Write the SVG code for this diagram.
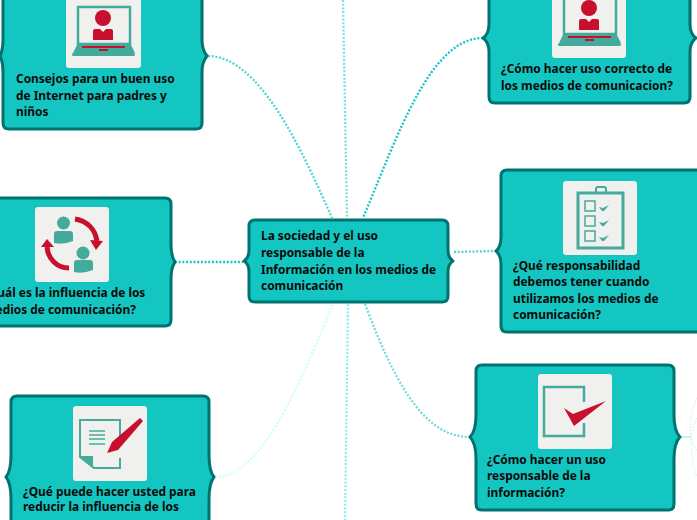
<svg xmlns="http://www.w3.org/2000/svg" width="697" height="520" viewBox="0 0 697 520">
<style>
.box{fill:#14c6c1;stroke:#007270;stroke-width:3;stroke-linejoin:round}
.tile{fill:#f0f0ee}
.t{font-family:"Noto Sans","Open Sans",sans-serif;font-weight:700;font-size:11.9px;fill:#0a0a0a}
.c{fill:none;stroke-width:2.300;stroke-dasharray:2 1.700}
.g{fill:#44ab9c}
.gs{fill:none;stroke:#44ab9c}
.r{fill:#c8102e}
.rs{fill:none;stroke:#c8102e}
</style>
<defs>
<g id="laptop">
<rect x="12" y="7" width="52" height="37" class="gs" stroke-width="2.500"/>
<circle cx="37" cy="18" r="8" class="r"/>
<path d="M27 40V31Q27 29 29 29H34L37 32L40 29H45Q47 29 47 31V40Z" class="r"/>
<path d="M11 45H65L69 53H7Z" class="g"/>
<rect x="16" y="46" width="43" height="2" class="r"/>
<rect x="33" y="49" width="9" height="2" class="r"/>
<rect x="6" y="53" width="63" height="3" rx="1.500" class="g"/>
</g>
</defs>
<g id="connectors">
<path class="c" stroke="#4fd6d2" d="M208 56C258 56 300 145 332 218"/>
<path class="c" stroke="#12c4c4" d="M483 38C430 38 398 135 363 218"/>
<path class="c" stroke="#7ce0de" d="M343 0L347 218"/>
<path class="c" stroke="#14c6c1" d="M175 262H243"/>
<path class="c" stroke="#4fd6d2" d="M454 252L495 251"/>
<path class="c" stroke="#ccfffb" d="M215 477C265 477 305 370 333 304"/>
<path class="c" stroke="#8ceeea" d="M348 304L345 520"/>
<path class="c" stroke="#6bdedb" d="M365 304C390 370 420 437 469 437"/>
<path fill="none" stroke="#8fe6e2" stroke-width="1" d="M680 437H691"/>
<path fill="none" stroke="#c4f2ef" stroke-width="1" stroke-dasharray="1.500 1.500" d="M697 398C691 410 689 425 691 437C691 450 692 465 697 476M697 418C693 425 692 431 691 437C693 443 694 447 697 451"/>
</g>
<g id="n-top-left">
<path class="box" d="M3 -20H202V40Q202 50 207 56Q202 62 202 72V123Q202 129 196 129H9Q3 129 3 123V72Q3 62 0 56Q3 50 3 40Z"/>
<rect class="tile" x="66" y="-8" width="75" height="76" rx="3"/>
<use href="#laptop" x="66"/>
<text class="t" x="16" y="83">Consejos para un buen uso</text>
<text class="t" x="16" y="100">de Internet para padres y</text>
<text class="t" x="16" y="116">niños</text>
</g>
<g id="n-left">
<path class="box" d="M-20 198H165Q171 198 171 204V245Q171 256 175 262Q171 268 171 279V320Q171 326 165 326H-20Z"/>
<rect class="tile" x="35" y="207" width="74" height="75" rx="3"/>
<circle cx="63.500" cy="223" r="6.500" class="g"/>
<path d="M54 243V234Q54 231 57 231H70Q73 231 73 234V241Q63 245 54 243Z" class="g"/>
<circle cx="83" cy="253" r="6.500" class="g"/>
<path d="M74 272V263Q74 260 77 260H90Q93 260 93 263V270Q83 274 74 272Z" class="g"/>
<path class="rs" stroke-width="5" d="M75 219C87 221 95 229 97 241"/>
<path class="r" d="M90 240L103 241L96 250Z"/>
<path class="rs" stroke-width="5" d="M69 268C57 268 48 259 47 247"/>
<path class="r" d="M41 247L47 239L54 247Z"/>
<text class="t" x="-16" y="297">¿Cuál es la influencia de los</text>
<text class="t" x="-16" y="314">medios de comunicación?</text>
</g>
<g id="n-bottom-left">
<path class="box" d="M17 396H203Q209 396 209 402V455Q209 471 214 477Q209 483 209 499V540H11V499Q11 483 6 477Q11 471 11 455V402Q11 396 17 396Z"/>
<rect class="tile" x="73" y="406" width="74" height="75" rx="3"/>
<path class="gs" stroke-width="2" d="M120 446V420H80V457L94 468H120V458"/>
<path class="g" d="M80 456H93V467Z"/>
<path class="gs" stroke-width="1.300" d="M89 431H105M89 435H105M89 439H105M89 444H105"/>
<path class="r" d="M140 418L143 421L118 450L107 453L112 442Z"/>
<text class="t" x="23" y="496">¿Qué puede hacer usted para</text>
<text class="t" x="23" y="511">reducir la influencia de los</text>
</g>
<g id="n-center">
<path class="box" d="M255 220H442Q448 220 448 226V250Q448 258 453 261Q448 264 448 272V296Q448 302 442 302H255Q249 302 249 296V272Q249 264 244 261Q249 258 249 250V226Q249 220 255 220Z"/>
<text class="t" x="261" y="240">La sociedad y el uso</text>
<text class="t" x="261" y="257">responsable de la</text>
<text class="t" x="261" y="274">Información en los medios de</text>
<text class="t" x="261" y="290">comunicación</text>
</g>
<g id="n-top-right">
<path class="box" d="M489 -20H690V24Q690 34 696 38Q690 42 690 52V97Q690 103 684 103H495Q489 103 489 97V52Q489 42 483 38Q489 34 489 24Z"/>
<rect class="tile" x="552" y="-18" width="74" height="76" rx="3"/>
<use href="#laptop" x="552" y="-10"/>
<text class="t" x="501" y="73">¿Cómo hacer uso correcto de</text>
<text class="t" x="501" y="90">los medios de comunicacion?</text>
</g>
<g id="n-mid-right">
<path class="box" d="M507 170H720V332H507Q501 332 501 326V265Q501 255 496 251Q501 247 501 237V176Q501 170 507 170Z"/>
<rect class="tile" x="563" y="181" width="74" height="74" rx="3"/>
<path class="gs" stroke-width="3" d="M578 193H623V248H578Z"/>
<path class="gs" stroke-width="2" d="M596 192V189Q596 187 598 187H604Q606 187 606 189V192"/>
<path class="gs" stroke-width="1.500" d="M585 201H595V211H585ZM585 216H595V226H585ZM585 231H595V241H585Z"/>
<path class="g" d="M599 207L603 208L609 205L604 211H602ZM599 222L603 223L609 220L604 226H602ZM599 237L603 238L609 235L604 241H602Z"/>
<text class="t" x="513" y="270">¿Qué responsabilidad</text>
<text class="t" x="513" y="286">debemos tener cuando</text>
<text class="t" x="513" y="303">utilizamos los medios de</text>
<text class="t" x="513" y="319">comunicación?</text>
</g>
<g id="n-bottom-right">
<path class="box" d="M482 365H668Q674 365 674 371V415Q674 431 680 437Q674 443 674 459V504Q674 510 668 510H482Q476 510 476 504V459Q476 443 470 437Q476 431 476 415V371Q476 365 482 365Z"/>
<rect class="tile" x="538" y="374" width="74" height="75" rx="3"/>
<path class="gs" stroke-width="2.500" d="M584 402V387H544V436H584V423"/>
<path class="r" d="M564 408L573 414L606 401L574 426Z"/>
<text class="t" x="487" y="464">¿Cómo hacer un uso</text>
<text class="t" x="487" y="480">responsable de la</text>
<text class="t" x="487" y="497">información?</text>
</g>
</svg>
